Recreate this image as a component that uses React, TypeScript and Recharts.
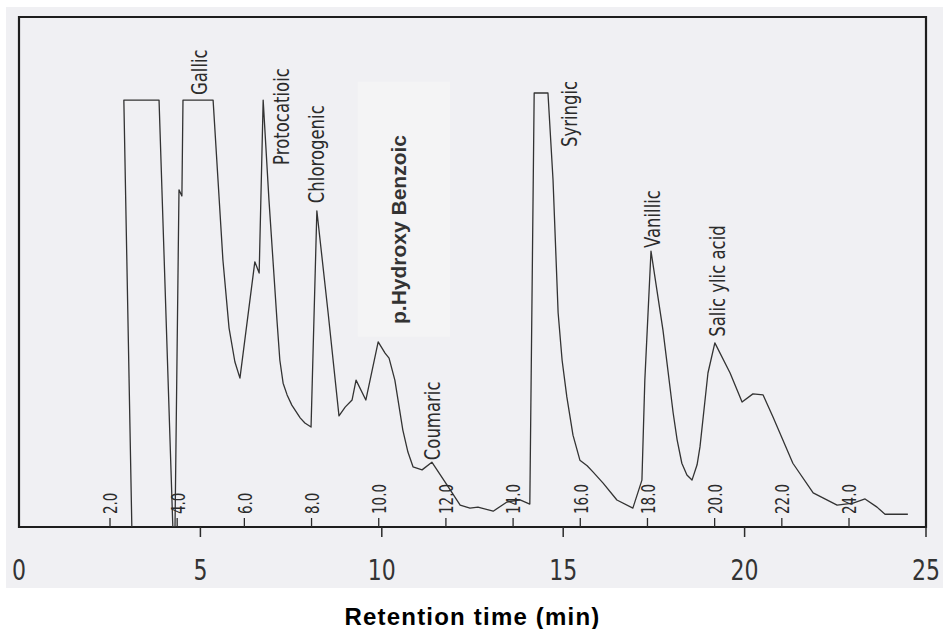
import React from "react";
import { LineChart, Line, XAxis, YAxis, ReferenceArea, ReferenceDot } from "recharts";

// retention time (min, lower scale) and detector response (relative units)
const times = [
  3.11, 2.89, 3.86, 4.24, 4.3, 4.41, 4.49, 4.52, 5.35, 5.62, 5.79, 5.95, 6.09, 6.5, 6.62,
  6.73, 6.89, 7.11, 7.19, 7.28, 7.39, 7.52, 7.75, 7.88, 8.05, 8.21, 8.52, 8.82, 8.99, 9.18, 9.29, 9.56,
  9.9, 10.09, 10.2, 10.36, 10.58, 10.72, 10.86, 11.11, 11.38, 11.8, 12.16, 12.43, 12.65,
  13.07, 13.45, 13.81, 14.08, 14.2, 14.58, 14.72, 14.86, 14.97, 15.1, 15.27, 15.46, 15.66, 15.82, 16.1,
  16.48, 16.92, 17.17, 17.25, 17.42, 17.75, 18.03, 18.14, 18.27, 18.41, 18.55, 18.69, 18.77, 18.99, 19.18,
  19.6, 19.93, 20.23, 20.51, 20.78, 21.33, 21.89, 22.55, 22.99, 23.32, 23.65, 23.87,
  24.5,
];
const response = [
  0, 83.7, 83.7, 0, 0, 66.1, 64.9, 83.7, 83.7, 52.4, 39.0, 32.4, 29.2, 52.0, 49.8,
  83.7, 64.1, 40.6, 32.7, 28.2, 25.9, 23.9, 21.4, 20.4, 19.6, 62.0, 42.0, 21.8, 23.5, 24.9, 28.8, 24.9,
  36.3, 34.1, 33.1, 28.8, 19.0, 14.7, 11.8, 11.2, 12.7, 8.2, 4.3, 3.7, 3.9,
  3.1, 4.9, 5.3, 4.5, 85.1, 85.1, 68.0, 42.0, 32.7, 25.5, 18.0, 13.1, 12.0, 10.8, 8.6,
  5.3, 3.7, 9.2, 28.8, 54.1, 38.6, 22.4, 17.1, 12.5, 10.2, 9.2, 12.2, 15.7, 30.2, 36.1,
  30.2, 24.5, 26.1, 25.9, 21.6, 12.5, 6.7, 4.3, 4.7, 5.5, 3.9, 2.5,
  2.5,
];

const outerTicks = [0, 5, 10, 15, 20, 25];
const innerTicks = [2, 4, 6, 8, 10, 12, 14, 16, 18, 20, 22, 24];

const peakNames = ["Gallic", "Protocatioic", "Chlorogenic", "Coumaric", "Syringic", "Vanillic", "Salic ylic acid"];
const peakTimes = [4.99, 7.25, 8.21, 11.41, 15.19, 17.48, 19.27];
const peakLabelBase = [84.7, 71.0, 63.5, 13.1, 74.5, 54.7, 37.3];

const data = times.map((t, i) => ({ t, v: response[i] }));

const ink = "#2b2b2b";
const scanFont = "'DejaVu Sans', sans-serif";

// plotter lettering is tall and narrow, so the glyphs are stretched across the baseline
const InnerTick = (props: any) => {
  const { x, y, payload } = props;
  return (
    <text
      x={0}
      y={0}
      transform={`translate(${x} ${y}) rotate(-90) scale(1 1.35)`}
      textAnchor="start"
      dominantBaseline="central"
      fontSize={15}
      fontFamily="'DejaVu Sans Condensed', 'DejaVu Sans', sans-serif"
      fill={ink}
    >
      {Number(payload.value).toFixed(1)}
    </text>
  );
};

const OuterTick = (props: any) => {
  const { x, y, payload } = props;
  return (
    <g>
      {payload.value !== 0 && <line x1={x} y1={y - 10} x2={x} y2={y} stroke={ink} strokeWidth={1.5} />}
      <text
        x={0}
        y={0}
        transform={`translate(${x} ${y + 43}) scale(1 1.25)`}
        textAnchor="middle"
        fontSize={22}
        fontFamily={scanFont}
        fill="#333"
      >
        {payload.value}
      </text>
    </g>
  );
};

const PeakName = (name: string, bold: boolean) => (p: any) =>
  bold ? (
    <text
      x={p.cx}
      y={p.cy}
      transform={`rotate(-90 ${p.cx} ${p.cy})`}
      textAnchor="start"
      dominantBaseline="central"
      fontSize={21}
      fontWeight="bold"
      fontFamily="'Liberation Sans', Arial, sans-serif"
      fill="#333"
    >
      {name}
    </text>
  ) : (
    <text
      x={0}
      y={0}
      transform={`translate(${p.cx} ${p.cy}) rotate(-90) scale(1 1.3)`}
      textAnchor="start"
      dominantBaseline="central"
      fontSize={16.5}
      fontFamily={scanFont}
      fill={ink}
    >
      {name}
    </text>
  );

export default function App() {
  return (
    <div style={{ position: "fixed", left: 0, top: 0, width: 943, height: 629, background: "#fff" }}>
      <div style={{ position: "absolute", left: 6, top: 7, width: 937, height: 581, background: "#f0f0f3" }} />
      <div style={{ position: "absolute", left: 0, top: 0 }}>
        <LineChart width={943} height={629} data={data} margin={{ top: 17, right: 17, left: 19, bottom: 0 }}>
          <XAxis
            xAxisId="outer"
            dataKey="t"
            type="number"
            domain={[0, 25]}
            ticks={outerTicks}
            allowDataOverflow
            height={102}
            axisLine={false}
            tickLine={false}
            tickSize={10}
            tickMargin={0}
            tick={OuterTick}
            label={{
              value: "Retention time (min)",
              position: "insideBottom",
              offset: 4,
              fill: "#000",
              fontSize: 24,
              letterSpacing: 1.2,
              fontWeight: "bold",
              fontFamily: "'Liberation Sans', Arial, sans-serif",
            }}
          />
          <XAxis
            xAxisId="inner"
            dataKey="t"
            type="number"
            domain={[-0.709, 26.292]}
            ticks={innerTicks}
            allowDataOverflow
            mirror
            axisLine={false}
            tickSize={9}
            tickMargin={4}
            tickLine={{ stroke: ink, strokeWidth: 1.3 }}
            tick={InnerTick}
          />
          <YAxis yAxisId="y" type="number" domain={[0, 100]} hide allowDataOverflow />
          <ReferenceArea xAxisId="outer" yAxisId="y" x1={9.34} x2={11.88} y1={37.3} y2={87.3} fill="#f4f4f5" fillOpacity={1} stroke="none" />
          <ReferenceArea xAxisId="outer" yAxisId="y" x1={0} x2={25} y1={0} y2={100} fill="none" stroke="#1e1e1e" strokeWidth={2.2} />
          <Line
            xAxisId="outer"
            yAxisId="y"
            type="linear"
            dataKey="v"
            stroke="#333"
            strokeWidth={1.3}
            strokeLinejoin="round"
            dot={false}
            isAnimationActive={false}
          />
          {peakNames.map((name, i) => (
            <ReferenceDot
              key={name}
              xAxisId="outer"
              yAxisId="y"
              x={peakTimes[i]}
              y={peakLabelBase[i]}
              shape={PeakName(name, false)}
            />
          ))}
          <ReferenceDot xAxisId="outer" yAxisId="y" x={10.47} y={39.8} shape={PeakName("p.Hydroxy Benzoic", true)} />
        </LineChart>
      </div>
    </div>
  );
}
